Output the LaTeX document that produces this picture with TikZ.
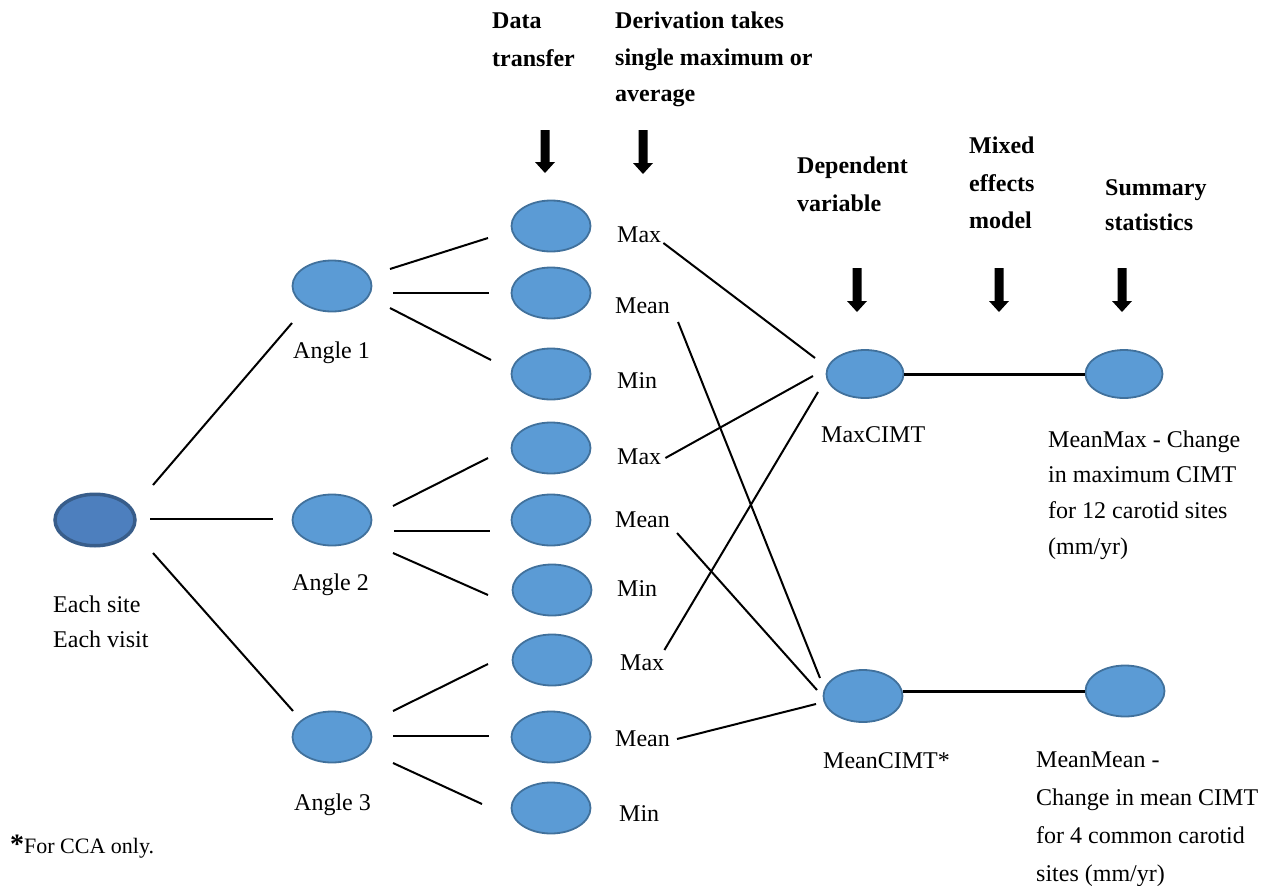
\documentclass[tikz,border=0pt]{standalone}
\usepackage{fontspec}
\setmainfont{Liberation Serif}
\usetikzlibrary{shapes.geometric,calc}
\definecolor{nodefill}{RGB}{91,155,213}
\definecolor{nodeedge}{RGB}{65,113,156}
\definecolor{rootfill}{RGB}{77,127,190}
\definecolor{rootedge}{RGB}{56,93,138}
\newcommand{\blkarrow}[4]{% centre x, top y, head start y, tip y
  \fill[black] (#1-4.5,#2) -- (#1+4.5,#2) -- (#1+4.5,#3) -- (#1+10,#3) -- (#1,#4) -- (#1-10,#3) -- (#1-4.5,#3) -- cycle;}
\begin{document}
\begin{tikzpicture}[x=1pt,y=-1pt,
  blob/.style={ellipse, draw=nodeedge, fill=nodefill, line width=1.8pt, minimum width=79pt, minimum height=51pt, inner sep=0pt},
  smallblob/.style={blob, minimum width=77pt, minimum height=48pt},
  rootblob/.style={blob, draw=rootedge, fill=rootfill, line width=3.5pt, minimum width=80pt, minimum height=51.5pt},
  lbl/.style={anchor=base west, inner sep=0pt, font=\fontsize{24}{28}\selectfont},
  hdr/.style={anchor=base west, inner sep=0pt, font=\fontsize{24}{28}\selectfont\bfseries},
  link/.style={line width=2pt},
  trunk/.style={line width=3pt}]
\useasboundingbox (0,0) rectangle (1269,886);

% headers
\node[hdr] (h1a) at (492,28) {Data};
\node[hdr] (h1b) at (492,66) {transfer};
\node[hdr] (h2a) at (615,28) {Derivation takes};
\node[hdr] (h2b) at (615,65) {single maximum or};
\node[hdr] (h2c) at (615,101) {average};
\node[hdr] (h3a) at (797,173) {Dependent};
\node[hdr] (h3b) at (797,211) {variable};
\node[hdr] (h4a) at (969,153) {Mixed};
\node[hdr] (h4b) at (969,191) {effects};
\node[hdr] (h4c) at (969,228) {model};
\node[hdr] (h5a) at (1105,195) {Summary};
\node[hdr] (h5b) at (1105,230) {statistics};

% big arrows
\blkarrow{545}{130}{162}{173}
\blkarrow{643}{130}{163}{174}
\blkarrow{857}{268}{301}{312}
\blkarrow{999}{268}{301}{312}
\blkarrow{1122}{268}{301}{312}

% ellipses
\node[rootblob] (root) at (95,520) {};
\node[blob] (a1) at (332,286) {};
\node[blob] (a2) at (332,520) {};
\node[blob] (a3) at (332,737) {};
\node[blob] (d11) at (551,226) {};
\node[blob] (d12) at (551,293) {};
\node[blob] (d13) at (551,374) {};
\node[blob] (d21) at (551,448) {};
\node[blob] (d22) at (551,520) {};
\node[blob] (d23) at (552,590) {};
\node[blob] (d31) at (552,660) {};
\node[blob] (d32) at (551,737) {};
\node[blob] (d33) at (551,808) {};
\node[smallblob] (dvmax) at (865,374) {};
\node[smallblob] (smax) at (1124,374) {};
\node[blob, minimum height=52pt] (dvmean) at (863,696) {};
\node[blob] (smean) at (1125,691) {};

% labels
\node[lbl] (troot1) at (53,612) {Each site};
\node[lbl] (troot2) at (53,647) {Each visit};
\node[lbl] (ta1) at (293,358) {Angle 1};
\node[lbl] (ta2) at (292,590) {Angle 2};
\node[lbl] (ta3) at (294,810) {Angle 3};
\node[lbl] (t11) at (617,242) {Max};
\node[lbl] (t12) at (615,313) {Mean};
\node[lbl] (t13) at (617,388) {Min};
\node[lbl] (t21) at (617,464) {Max};
\node[lbl] (t22) at (615,527) {Mean};
\node[lbl] (t23) at (617,596) {Min};
\node[lbl] (t31) at (620,670) {Max};
\node[lbl] (t32) at (615,746) {Mean};
\node[lbl] (t33) at (619,821) {Min};
\node[lbl] (tdvmax) at (821,442) {MaxCIMT};
\node[lbl] (tdvmean) at (823,768) {MeanCIMT*};
\node[lbl] (ts1a) at (1048,447) {MeanMax - Change};
\node[lbl] (ts1b) at (1048,482) {in maximum CIMT};
\node[lbl] (ts1c) at (1048,518) {for 12 carotid sites};
\node[lbl] (ts1d) at (1048,554) {(mm/yr)};
\node[lbl] (ts2a) at (1036,767) {MeanMean -};
\node[lbl] (ts2b) at (1036,805) {Change in mean CIMT};
\node[lbl] (ts2c) at (1036,843) {for 4 common carotid};
\node[lbl] (ts2d) at (1036,881) {sites (mm/yr)};
\node[anchor=base west, inner sep=0pt] (fn) at (10,853) {{\fontsize{28}{30}\selectfont\bfseries *}\fontsize{22}{26}\selectfont For CCA only.};

% connectors: root to angles
\draw[link] ($(root)+(58,-35)$) -- ($(a1)+(-40,37)$);
\draw[link] ($(root)+(55,-1)$) -- ($(a2)+(-59,-1)$);
\draw[link] ($(root)+(58,33)$) -- ($(a3)+(-39,-26)$);
% angles to derivations
\draw[link] ($(a1)+(58,-17)$) -- ($(d11)+(-63,12)$);
\draw[link] ($(a1)+(61,7)$) -- ($(d12)+(-62,0)$);
\draw[link] ($(a1)+(58,22)$) -- ($(d13)+(-60,-14)$);
\draw[link] ($(a2)+(61,-14)$) -- ($(d21)+(-63,10)$);
\draw[link] ($(a2)+(62,11)$) -- ($(d22)+(-61,11)$);
\draw[link] ($(a2)+(61,33)$) -- ($(d23)+(-64,5)$);
\draw[link] ($(a3)+(61,-26)$) -- ($(d31)+(-64,4)$);
\draw[link] ($(a3)+(61,-1)$) -- ($(d32)+(-62,-1)$);
\draw[link] ($(a3)+(61,26)$) -- ($(d33)+(-69,-4)$);
% derivations to dependent variables
\draw[link] ($(t11.base east)+(2,1)$) -- ($(dvmax)+(-50,-16)$);
\draw[link] ($(t21.base east)+(4,-6)$) -- ($(dvmax)+(-52,2)$);
\draw[link] ($(t31.base east)+(0,-20)$) -- ($(dvmax)+(-47,18)$);
\draw[link] ($(t12.base east)+(8,9)$) -- ($(dvmean)+(-43,-18)$);
\draw[link] ($(t22.base east)+(7,6)$) -- ($(dvmean)+(-46,-6)$);
\draw[link] ($(t32.base east)+(7,-7)$) -- ($(dvmean)+(-47,8)$);
% dependent variables to summaries
\draw[trunk] (dvmax.east) -- (smax.west);
\draw[trunk] (smean.west) -- (smean.west -| dvmean.east);
\end{tikzpicture}
\end{document}
